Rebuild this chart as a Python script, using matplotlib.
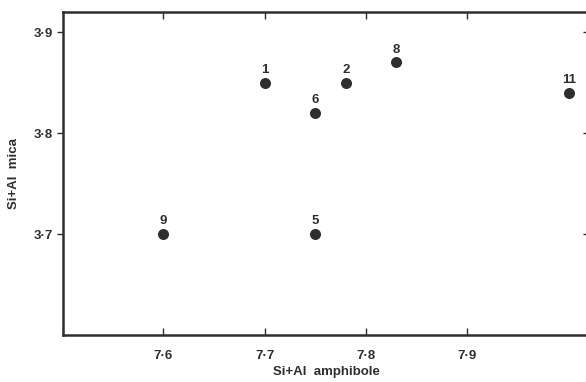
import matplotlib
matplotlib.use("Agg")
import matplotlib.pyplot as plt

plt.rcParams['font.family'] = ['Liberation Sans', 'DejaVu Sans']

# sample numbers and compositions
samples = ["9", "1", "6", "5", "2", "8", "11"]
amphibole = [7.60, 7.70, 7.75, 7.75, 7.78, 7.83, 8.00]
mica = [3.70, 3.85, 3.82, 3.70, 3.85, 3.87, 3.84]

x_ticks = [7.6, 7.7, 7.8, 7.9]
y_ticks = [3.7, 3.8, 3.9]

ink = "#2e2e2e"

fig = plt.figure(figsize=(5.86, 3.82), dpi=100)
ax = fig.add_axes([63 / 586, 47 / 382, 526 / 586, 323 / 382])

ax.scatter(amphibole, mica, s=48, color=ink, zorder=3)
for lab, x, y in zip(samples, amphibole, mica):
    ax.annotate(lab, (x, y), xytext=(0, 5), textcoords="offset points",
                ha="center", va="bottom", fontsize=9.5, fontweight="bold", color=ink)

ax.set_xlim(7.501, 8.02)
ax.set_ylim(3.6, 3.92)

ax.set_xticks(x_ticks)
ax.set_xticklabels([f"{v:.1f}".replace(".", "\u00b7") for v in x_ticks])
ax.set_yticks(y_ticks)
ax.set_yticklabels([f"{v:.1f}".replace(".", "\u00b7") for v in y_ticks])

ax.tick_params(axis="x", direction="in", top=True, length=5, width=1,
               color=ink, labelsize=9.5, labelcolor=ink, pad=11)
ax.tick_params(axis="y", which="both", length=4, width=1,
               color=ink, labelsize=9.5, labelcolor=ink, pad=3)
ax.tick_params(axis="y", direction="out", left=True)
ax.tick_params(axis="y", right=True)
for t in ax.yaxis.get_major_ticks():
    t.tick2line.set_marker(matplotlib.lines.TICKLEFT)
for lab in ax.get_xticklabels() + ax.get_yticklabels():
    lab.set_fontweight("bold")

for side in ["left", "bottom", "top", "right"]:
    ax.spines[side].set_linewidth(1.8)
    ax.spines[side].set_color(ink)

ax.set_xlabel("Si+Al  amphibole", fontsize=9.5, fontweight="bold", color=ink, labelpad=3)
ax.set_ylabel("Si+Al  mica", fontsize=9.5, fontweight="bold", color=ink, labelpad=10)

fig.savefig("out.png", dpi=100)
